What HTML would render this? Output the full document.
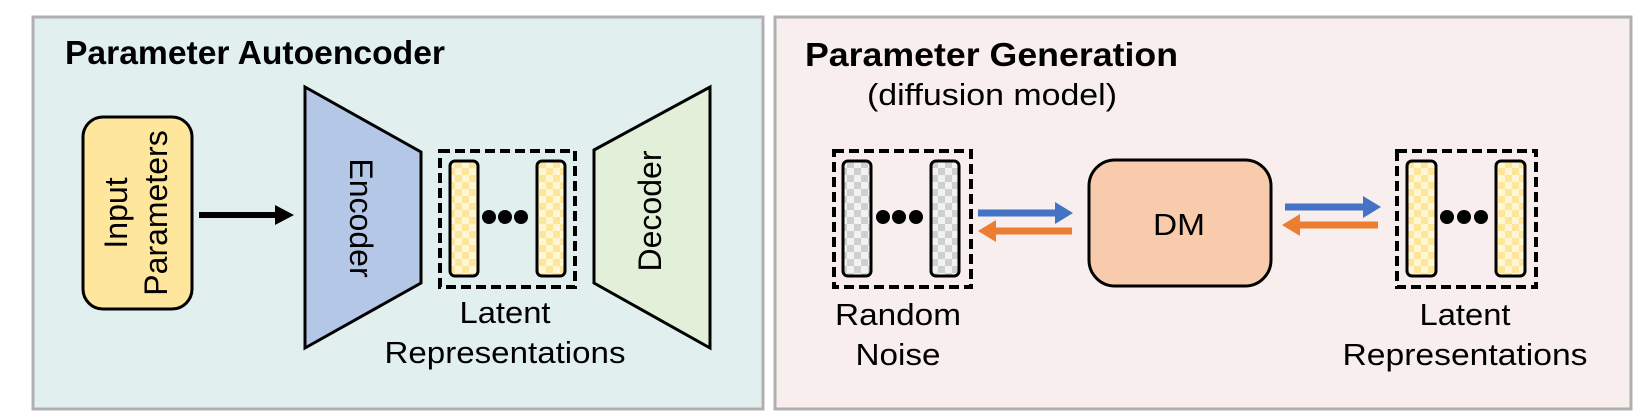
<!DOCTYPE html>
<html><head><meta charset="utf-8"><style>
html,body{margin:0;padding:0;background:#fff;}
svg{display:block;font-family:"Liberation Sans",Arial,sans-serif;}
</style></head><body>
<svg width="1634" height="420" viewBox="0 0 1634 420" xmlns="http://www.w3.org/2000/svg">
<defs>
<pattern id="cy" width="14" height="14" patternUnits="userSpaceOnUse">
<rect width="14" height="14" fill="#fff6d6"/><rect width="7" height="7" fill="#fde59a"/><rect x="7" y="7" width="7" height="7" fill="#fde59a"/>
</pattern>
<pattern id="cg" width="14" height="14" patternUnits="userSpaceOnUse">
<rect width="14" height="14" fill="#f2f2f2"/><rect width="7" height="7" fill="#cfcfcf"/><rect x="7" y="7" width="7" height="7" fill="#cfcfcf"/>
</pattern>
</defs>
<rect x="33" y="17" width="730" height="392" fill="#e2efef" stroke="#b0b0b0" stroke-width="3"/>
<rect x="775" y="17" width="856" height="392" fill="#f8eeee" stroke="#b0b0b0" stroke-width="3"/>
<text x="65" y="64" font-size="33" font-weight="bold" textLength="380" lengthAdjust="spacingAndGlyphs">Parameter Autoencoder</text>
<text x="805" y="66" font-size="33" font-weight="bold" textLength="373" lengthAdjust="spacingAndGlyphs">Parameter Generation</text>
<text x="867" y="105" font-size="31" textLength="250" lengthAdjust="spacingAndGlyphs">(diffusion model)</text>

<rect x="83" y="117" width="109" height="192" rx="20" fill="#fee69c" stroke="#000" stroke-width="3"/>
<g transform="translate(137,213) rotate(-90)" font-size="32" text-anchor="middle">
<text x="0" y="-10">Input</text>
<text x="0" y="30">Parameters</text>
</g>
<line x1="199" y1="215" x2="278" y2="215" stroke="#000" stroke-width="6"/>
<polygon points="275,205 294,215 275,225" fill="#000"/>

<polygon points="305,87 421,152 421,283 305,348" fill="#b4c7e7" stroke="#000" stroke-width="3"/>
<text transform="translate(350,218) rotate(90)" font-size="32" text-anchor="middle">Encoder</text>
<polygon points="594,150 710,87 710,348 594,283" fill="#e2efd9" stroke="#000" stroke-width="3"/>
<text transform="translate(661,211) rotate(-90)" font-size="32" text-anchor="middle">Decoder</text>

<rect x="440" y="151" width="135" height="136" fill="none" stroke="#000" stroke-width="4" stroke-dasharray="10,5"/>
<rect x="450" y="161" width="28" height="115" rx="5" fill="url(#cy)" stroke="#000" stroke-width="3"/>
<rect x="537" y="161" width="28" height="115" rx="5" fill="url(#cy)" stroke="#000" stroke-width="3"/>
<circle cx="489" cy="217" r="7"/><circle cx="505" cy="217" r="7"/><circle cx="521" cy="217" r="7"/>
<text x="505" y="323" font-size="31" text-anchor="middle" textLength="91" lengthAdjust="spacingAndGlyphs">Latent</text>
<text x="505" y="363" font-size="31" text-anchor="middle" textLength="241" lengthAdjust="spacingAndGlyphs">Representations</text>

<rect x="834" y="151" width="137" height="136" fill="none" stroke="#000" stroke-width="4" stroke-dasharray="10,5"/>
<rect x="843" y="161" width="28" height="115" rx="5" fill="url(#cg)" stroke="#000" stroke-width="3"/>
<rect x="931" y="161" width="28" height="115" rx="5" fill="url(#cg)" stroke="#000" stroke-width="3"/>
<circle cx="883" cy="217" r="7"/><circle cx="899" cy="217" r="7"/><circle cx="916" cy="217" r="7"/>
<text x="898" y="325" font-size="31" text-anchor="middle" textLength="126" lengthAdjust="spacingAndGlyphs">Random</text>
<text x="898" y="365" font-size="31" text-anchor="middle" textLength="85" lengthAdjust="spacingAndGlyphs">Noise</text>

<line x1="978" y1="213" x2="1058" y2="213" stroke="#4472c4" stroke-width="7"/>
<polygon points="1055,202 1073,213 1055,224" fill="#4472c4"/>
<line x1="993" y1="231" x2="1072" y2="231" stroke="#ed7d31" stroke-width="7"/>
<polygon points="996,220 978,231 996,242" fill="#ed7d31"/>

<rect x="1089" y="160" width="182" height="126" rx="26" fill="#f8cbad" stroke="#000" stroke-width="3"/>
<text x="1179" y="235" font-size="31" text-anchor="middle" textLength="52" lengthAdjust="spacingAndGlyphs">DM</text>

<line x1="1285" y1="207" x2="1366" y2="207" stroke="#4472c4" stroke-width="7"/>
<polygon points="1363,196 1381,207 1363,218" fill="#4472c4"/>
<line x1="1297" y1="225" x2="1378" y2="225" stroke="#ed7d31" stroke-width="7"/>
<polygon points="1300,214 1282,225 1300,236" fill="#ed7d31"/>

<rect x="1397" y="151" width="139" height="136" fill="none" stroke="#000" stroke-width="4" stroke-dasharray="10,5"/>
<rect x="1407" y="161" width="29" height="115" rx="5" fill="url(#cy)" stroke="#000" stroke-width="3"/>
<rect x="1496" y="161" width="29" height="115" rx="5" fill="url(#cy)" stroke="#000" stroke-width="3"/>
<circle cx="1447" cy="217" r="7"/><circle cx="1464" cy="217" r="7"/><circle cx="1481" cy="217" r="7"/>
<text x="1465" y="325" font-size="31" text-anchor="middle" textLength="91" lengthAdjust="spacingAndGlyphs">Latent</text>
<text x="1465" y="365" font-size="31" text-anchor="middle" textLength="245" lengthAdjust="spacingAndGlyphs">Representations</text>
</svg>
</body></html>
